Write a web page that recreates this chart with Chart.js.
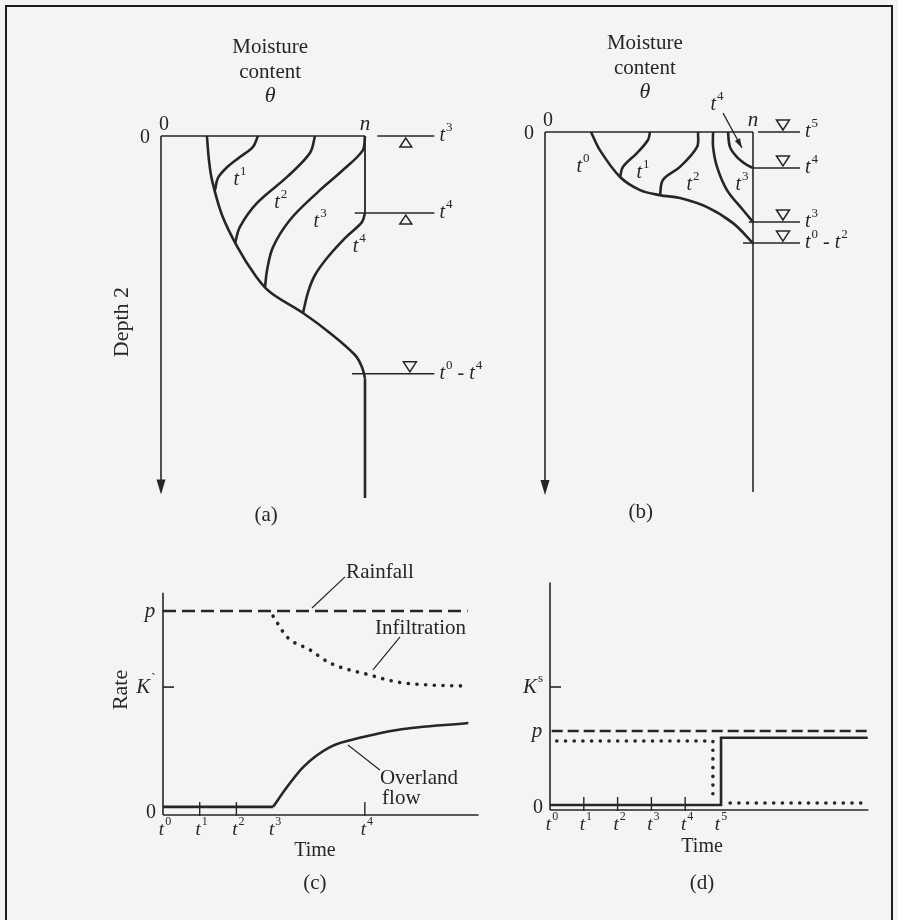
<!DOCTYPE html>
<html>
<head>
<meta charset="utf-8">
<title>Moisture profiles and rates</title>
<script src="https://cdn.jsdelivr.net/npm/chart.js@4.4.0/dist/chart.umd.min.js"></script>
<style>
  body { margin: 0; background: #f4f4f4; overflow: hidden; }
  #wrap { position: relative; width: 898px; height: 920px; background: #f4f4f4; overflow: hidden; }
  #frame { position: absolute; left: 5px; top: 5px; width: 888px; height: 930px; border: 2px solid #1e1e1e; box-sizing: border-box; }
  canvas { position: absolute; left: 0; top: 0; }
</style>
</head>
<body>
<div id="wrap">
  <div id="frame"></div>
  <canvas id="chartA" width="898" height="920"></canvas>
  <canvas id="chartB" width="898" height="920"></canvas>
  <canvas id="chartC" width="898" height="920"></canvas>
  <canvas id="chartD" width="898" height="920"></canvas>
</div>
<script>
// ---- (a) moisture profiles: x = theta / n, y = relative depth ----
const aFront = [[0.225, 0], [0.235, 0.066], [0.25, 0.122], [0.299, 0.218], [0.377, 0.309], [0.461, 0.384],
                [0.534, 0.431], [0.696, 0.489], [0.828, 0.544], [0.951, 0.605], [0.985, 0.638], [1.0, 0.669]];
const aDeep = [[1.0, 0.669], [1.0, 1.0]];
const aT1 = [[0.475, 0], [0.451, 0.030], [0.387, 0.058], [0.324, 0.086], [0.279, 0.116], [0.265, 0.149]];
const aT2 = [[0.755, 0], [0.730, 0.047], [0.618, 0.113], [0.471, 0.185], [0.387, 0.251], [0.363, 0.296]];
const aT3 = [[1.0, 0], [0.990, 0.039], [0.892, 0.094], [0.765, 0.157], [0.632, 0.232], [0.549, 0.307],
             [0.520, 0.370], [0.51, 0.417]];
const aT4 = [[1.0, 0.213], [0.985, 0.238], [0.902, 0.282], [0.814, 0.337], [0.755, 0.384], [0.721, 0.431], [0.696, 0.489]];
const aSaturated = [[1.0, 0], [1.0, 0.213]];
const aCurveTags = [['1', 0.387, 0.122], ['2', 0.587, 0.185], ['3', 0.78, 0.238], ['4', 0.972, 0.307]];
const aTables = [
  {depth: 0, from: 1.06, mark: 'up', label: [['t', '3']]},
  {depth: 0.213, from: 0.95, mark: 'up', label: [['t', '4']]},
  {depth: 0.657, from: 0.936, mark: 'down', label: [['t', '0'], ' - ', ['t', '4']]}
];

// ---- (b) moisture profiles ----
const bFront = [[0.221, 0], [0.264, 0.050], [0.361, 0.124], [0.457, 0.160], [0.553, 0.174], [0.649, 0.182],
                [0.779, 0.207], [0.904, 0.251], [1.0, 0.306]];
const bT1 = [[0.505, 0], [0.495, 0.022], [0.442, 0.058], [0.375, 0.096], [0.361, 0.124]];
const bT2 = [[0.736, 0], [0.731, 0.041], [0.649, 0.096], [0.567, 0.132], [0.553, 0.174]];
const bT3 = [[0.808, 0], [0.808, 0.041], [0.827, 0.096], [0.875, 0.160], [0.952, 0.215], [1.0, 0.248]];
const bT4 = [[0.880, 0], [0.889, 0.041], [0.923, 0.069], [0.971, 0.091], [1.0, 0.099]];
const bCurveTags = [['0', 0.183, 0.096], ['1', 0.471, 0.113], ['2', 0.712, 0.146], ['3', 0.947, 0.146]];
const bTables = [
  {depth: 0, from: 1.024, label: [['t', '5']]},
  {depth: 0.099, from: 1.0, label: [['t', '4']]},
  {depth: 0.248, from: 0.98, label: [['t', '3']]},
  {depth: 0.306, from: 0.952, label: [['t', '0'], ' - ', ['t', '2']]}
];

// ---- (c) rates, p = 1 ----
const cTimes = [0, 1, 2, 3, 5.5];
const cTimeTags = ['0', '1', '2', '3', '4'];
const cKs = 0.627;
const cRain = [[0, 1], [8.3, 1]];
const cInfil = [[3.0, 0.975], [3.38, 0.873], [4.0, 0.81], [4.55, 0.745], [5.64, 0.686], [6.38, 0.652], [7.3, 0.637], [8.28, 0.632]];
const cOverBase = [[0, 0.04], [3.0, 0.04]];
const cOver = [[3.0, 0.04], [3.38, 0.137], [3.82, 0.235], [4.55, 0.333], [5.45, 0.382], [6.38, 0.417], [8.32, 0.451]];

// ---- (d) rates, p = 1 ----
const dTimes = [0, 1, 2, 3, 4, 5];
const dTimeTags = ['0', '1', '2', '3', '4', '5'];
const dKs = 1.557;
const dRain = [[0.05, 1], [9.4, 1]];
const dInfil = [[0.2, 0.873], [4.82, 0.873], [4.82, 0.15]];
const dInfilLate = [[5.33, 0.089], [9.4, 0.089]];
const dOver = [[0, 0.063], [5.06, 0.063], [5.06, 0.915], [9.4, 0.915]];

const W = 898, H = 920;
const INK = '#262626';
const SERIF = '"Liberation Serif", "DejaVu Serif", serif';

function xy(arr) { return arr.map(([x, y]) => ({x, y})); }

function series(arr, style) {
  return Object.assign({
    data: xy(arr), showLine: true, pointRadius: 0, borderColor: INK, borderWidth: 2.6,
    tension: 0.35, clip: false, fill: false
  }, style || {});
}
const DASH = {borderDash: [13, 6], tension: 0, borderWidth: 2.6};
const DOTS = {borderDash: [0.1, 8.6], borderCapStyle: 'round', borderWidth: 3.6};

function seg(ctx, x1, y1, x2, y2) {
  ctx.beginPath(); ctx.moveTo(x1, y1); ctx.lineTo(x2, y2); ctx.stroke();
}

function txt(ctx, s, x, y, size, italic, align) {
  ctx.font = (italic ? 'italic ' : '') + size + 'px ' + SERIF;
  ctx.textAlign = align || 'center';
  ctx.textBaseline = 'middle';
  ctx.fillStyle = INK;
  ctx.fillText(s, x, y);
}

// parts: plain strings or [base, superscript]
function rich(ctx, parts, x, y, size, align) {
  const sup = Math.round(size * 0.64);
  const items = [];
  parts.forEach(p => {
    if (typeof p === 'string') items.push({s: p, font: size + 'px ' + SERIF, dy: 0});
    else {
      items.push({s: p[0], font: 'italic ' + size + 'px ' + SERIF, dy: 0, gap: 1});
      items.push({s: p[1], font: sup + 'px ' + SERIF, dy: -size * 0.42});
    }
  });
  let total = 0;
  items.forEach(it => { ctx.font = it.font; it.w = ctx.measureText(it.s).width + (it.gap || 0); total += it.w; });
  let cx = align === 'left' ? x : x - total / 2;
  ctx.textAlign = 'left'; ctx.textBaseline = 'middle'; ctx.fillStyle = INK;
  items.forEach(it => { ctx.font = it.font; ctx.fillText(it.s, cx, y + it.dy); cx += it.w; });
}

function triangle(ctx, cx, yLine, dir) {
  ctx.beginPath();
  if (dir === 'up') {
    ctx.moveTo(cx, yLine + 2); ctx.lineTo(cx - 6, yLine + 11); ctx.lineTo(cx + 6, yLine + 11);
  } else {
    ctx.moveTo(cx - 6.5, yLine - 12); ctx.lineTo(cx + 6.5, yLine - 12); ctx.lineTo(cx, yLine - 2);
  }
  ctx.closePath(); ctx.stroke();
}

function arrowDown(ctx, x, tip) {
  ctx.beginPath();
  ctx.moveTo(x, tip); ctx.lineTo(x - 4.5, tip - 15); ctx.lineTo(x + 4.5, tip - 15);
  ctx.closePath(); ctx.fill();
}

function rotated(ctx, s, x, y, size) {
  ctx.save(); ctx.translate(x, y); ctx.rotate(-Math.PI / 2);
  txt(ctx, s, 0, 0, size, false); ctx.restore();
}

function panel(id, box, scales, datasets, decor) {
  return new Chart(document.getElementById(id), {
    type: 'scatter',
    data: {datasets},
    options: {
      responsive: false, animation: false, events: [],
      layout: {padding: {left: box.left, top: box.top, right: W - box.right, bottom: H - box.bottom}},
      scales: {
        x: Object.assign({type: 'linear', display: false}, scales.x),
        y: Object.assign({type: 'linear', display: false}, scales.y)
      },
      plugins: {legend: {display: false}, tooltip: {enabled: false}}
    },
    plugins: [decor]
  });
}

function pixels(chart) {
  const {x, y} = chart.scales;
  return [v => x.getPixelForValue(v), v => y.getPixelForValue(v)];
}

// moisture panel frame: surface line, depth arrow, headings
function profileFrame(chart, depthEnd, sideEnd) {
  const ctx = chart.ctx;
  const [px, py] = pixels(chart);
  ctx.save();
  ctx.strokeStyle = INK; ctx.fillStyle = INK; ctx.lineWidth = 1.6;
  seg(ctx, px(0), py(0), px(1), py(0));
  seg(ctx, px(0), py(0), px(0), py(depthEnd) - 10);
  arrowDown(ctx, px(0), py(depthEnd));
  if (sideEnd) seg(ctx, px(1), py(0), px(1), py(sideEnd));
  ctx.restore();
}

function profileText(chart, headX, letter, depthLabel) {
  const ctx = chart.ctx;
  const [px, py] = pixels(chart);
  const top = py(0);
  txt(ctx, 'Moisture', px(headX), top - 89, 21, false);
  txt(ctx, 'content', px(headX), top - 64, 21, false);
  txt(ctx, 'θ', px(headX), top - 40, 22, true);
  txt(ctx, '0', px(0) - 16, top + 2, 20, false);
  txt(ctx, '0', px(0) + 3, top - 11, 20, false);
  txt(ctx, 'n', px(1), top - 12, 21, true);
  if (depthLabel) rotated(ctx, 'Depth 2', px(0) - 39, py(0.514), 22);
  txt(ctx, letter, px(headX) - 4, py(1) + 17, 21, false);
}

const decorA = {
  id: 'decorA',
  beforeDatasetsDraw(chart) {
    profileFrame(chart, 0.99, 0);
    const ctx = chart.ctx;
    const [px, py] = pixels(chart);
    ctx.save(); ctx.strokeStyle = INK; ctx.lineWidth = 1.5;
    aTables.forEach(t => {
      const yl = py(t.depth);
      seg(ctx, px(t.from), yl, px(1.34), yl);
      triangle(ctx, px(t.mark === 'up' ? 1.2 : 1.22), yl, t.mark);
    });
    ctx.restore();
  },
  afterDatasetsDraw(chart) {
    const ctx = chart.ctx;
    const [px, py] = pixels(chart);
    profileText(chart, 0.535, '(a)', true);
    aCurveTags.forEach(([s, x, y]) => rich(ctx, [['t', s]], px(x), py(y), 20));
    aTables.forEach(t => rich(ctx, t.label, px(1.365), py(t.depth), 20, 'left'));
  }
};

const decorB = {
  id: 'decorB',
  beforeDatasetsDraw(chart) {
    profileFrame(chart, 1.0, 0.992);
    const ctx = chart.ctx;
    const [px, py] = pixels(chart);
    ctx.save(); ctx.strokeStyle = INK; ctx.fillStyle = INK; ctx.lineWidth = 1.5;
    bTables.forEach(t => {
      const yl = py(t.depth);
      seg(ctx, px(t.from), yl, px(1.226), yl);
      triangle(ctx, px(1.144), yl, 'down');
    });
    // pointer from the t4 tag to its curve
    const x1 = px(0.856), y1 = py(-0.052), x2 = px(0.947), y2 = py(0.044);
    ctx.lineWidth = 1.3;
    seg(ctx, x1, y1, x2, y2);
    const a = Math.atan2(y2 - y1, x2 - x1);
    ctx.beginPath();
    ctx.moveTo(x2, y2);
    ctx.lineTo(x2 - 10 * Math.cos(a - 0.3), y2 - 10 * Math.sin(a - 0.3));
    ctx.lineTo(x2 - 10 * Math.cos(a + 0.3), y2 - 10 * Math.sin(a + 0.3));
    ctx.closePath(); ctx.fill();
    ctx.restore();
  },
  afterDatasetsDraw(chart) {
    const ctx = chart.ctx;
    const [px, py] = pixels(chart);
    profileText(chart, 0.48, '(b)', false);
    bCurveTags.forEach(([s, x, y]) => rich(ctx, [['t', s]], px(x), py(y), 20));
    rich(ctx, [['t', '4']], px(0.827), py(-0.074), 20);
    bTables.forEach(t => rich(ctx, t.label, px(1.25), py(t.depth), 20, 'left'));
  }
};

// rate panel frame: axes, ticks and labels
function rateFrame(chart, times, tags, xEnd, yTop, ks, ksLabel, tickTimes) {
  const ctx = chart.ctx;
  const [px, py] = pixels(chart);
  const x0 = px(0), y0 = py(0);
  ctx.save();
  ctx.strokeStyle = INK; ctx.lineWidth = 1.6;
  seg(ctx, x0, py(yTop), x0, y0);
  seg(ctx, x0, y0, px(xEnd), y0);
  seg(ctx, x0, py(ks), x0 + 11, py(ks));
  ctx.lineWidth = 1.4;
  tickTimes.forEach(t => seg(ctx, px(t), y0 + 1, px(t), y0 - 13));
  ctx.restore();
  times.forEach((t, i) => rich(ctx, [['t', tags[i]]], px(t) + 2, y0 + 15, 19));
  txt(ctx, '0', x0 - 12, y0 - 2, 20, false);
  txt(ctx, 'p', x0 - 13, py(1), 21, true);
  rich(ctx, [ksLabel], x0 - 17, py(ks), 21);
}

const decorC = {
  id: 'decorC',
  beforeDatasetsDraw(chart) {
    rateFrame(chart, cTimes, cTimeTags, 8.6, 1.09, cKs, ['K', '`'], [1, 2, 5.5]);
    const ctx = chart.ctx;
    const [px, py] = pixels(chart);
    ctx.save(); ctx.strokeStyle = INK; ctx.lineWidth = 1.2;
    seg(ctx, px(4.96), py(1.167), px(4.06), py(1.015));
    seg(ctx, px(6.46), py(0.873), px(5.72), py(0.711));
    seg(ctx, px(5.91), py(0.221), px(5.04), py(0.343));
    ctx.restore();
  },
  afterDatasetsDraw(chart) {
    const ctx = chart.ctx;
    const [px, py] = pixels(chart);
    txt(ctx, 'Rainfall', px(4.99), py(1.19), 21, false, 'left');
    txt(ctx, 'Infiltration', px(5.78), py(0.912), 21, false, 'left');
    txt(ctx, 'Overland', px(5.91), py(0.181), 21, false, 'left');
    txt(ctx, 'flow', px(5.97), py(0.083), 21, false, 'left');
    txt(ctx, 'Time', px(4.14), py(0) + 36, 20, false);
    rotated(ctx, 'Rate', px(0) - 42, py(0.613), 22);
    txt(ctx, '(c)', px(4.14), py(0) + 68, 21, false);
  }
};

const decorD = {
  id: 'decorD',
  beforeDatasetsDraw(chart) {
    rateFrame(chart, dTimes, dTimeTags, 9.42, 2.88, dKs, ['K', 's'], [1, 2, 3, 4]);
  },
  afterDatasetsDraw(chart) {
    const ctx = chart.ctx;
    const [px, py] = pixels(chart);
    txt(ctx, 'Time', px(4.5), py(0) + 37, 20, false);
    txt(ctx, '(d)', px(4.5), py(0) + 73, 21, false);
  }
};

panel('chartA', {left: 161, top: 136, right: 365, bottom: 498},
  {x: {min: 0, max: 1}, y: {min: 0, max: 1, reverse: true}},
  [series(aFront), series(aDeep, {tension: 0}), series(aT1), series(aT2), series(aT3), series(aT4),
   series(aSaturated, {tension: 0, borderWidth: 1.8})],
  decorA);

panel('chartB', {left: 545, top: 132, right: 753, bottom: 495},
  {x: {min: 0, max: 1}, y: {min: 0, max: 1, reverse: true}},
  [series(bFront), series(bT1), series(bT2), series(bT3), series(bT4)],
  decorB);

panel('chartC', {left: 163, top: 590.6, right: 478.6, bottom: 815},
  {x: {min: 0, max: 8.6}, y: {min: 0, max: 1.1}},
  [series(cRain, DASH), series(cInfil, Object.assign({cubicInterpolationMode: 'monotone'}, DOTS)),
   series(cOverBase, {tension: 0}), series(cOver, {cubicInterpolationMode: 'monotone'})],
  decorC);

panel('chartD', {left: 550, top: 580.9, right: 869.4, bottom: 810},
  {x: {min: 0, max: 9.45}, y: {min: 0, max: 2.9}},
  [series(dRain, Object.assign({}, DASH, {borderDash: [11, 5]})), series(dInfil, Object.assign({tension: 0}, DOTS)),
   series(dInfilLate, Object.assign({tension: 0}, DOTS)), series(dOver, {tension: 0})],
  decorD);
</script>
</body>
</html>
